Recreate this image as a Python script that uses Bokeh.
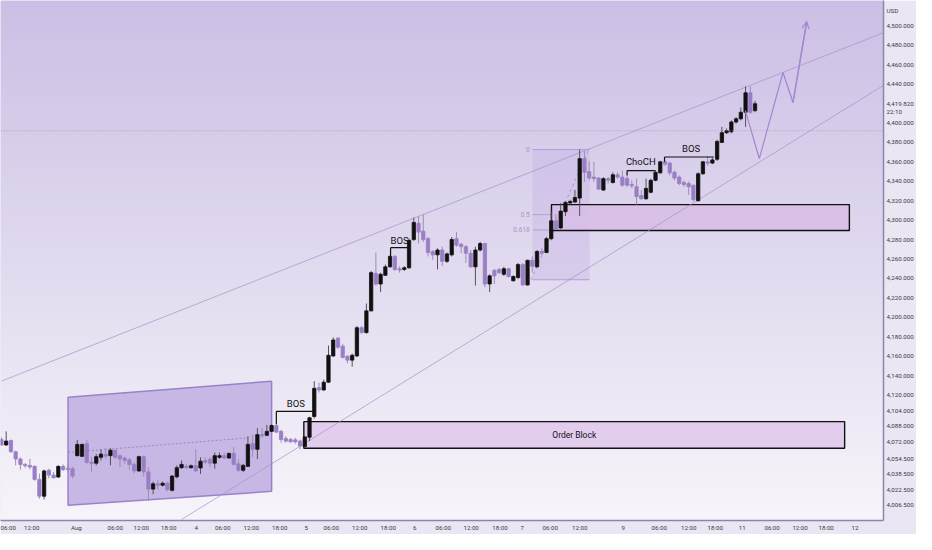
import numpy as np
from bokeh.plotting import figure
from bokeh.models import (ColumnDataSource, FixedTicker, Span, Arrow, OpenHead,
                          Range1d, NumeralTickFormatter)
from bokeh.core.properties import value
from bokeh.embed import file_html
from bokeh.resources import INLINE

# ---------------- data (hourly XAUUSD candles) ----------------
opens = [
    4074.3, 4068.7, 4073.3, 4061.7, 4054.3, 4048.7, 4047.7, 4046.7, 4033.3, 4016.0,
    4042.7, 4037.7, 4035.7, 4046.7, 4044.7, 4044.3, 4057.7, 4057.0, 4070.0, 4051.0,
    4050.0, 4056.0, 4059.0, 4057.7, 4063.3, 4057.7, 4055.3, 4053.3, 4048.7, 4042.0,
    4056.7, 4041.0, 4023.3, 4028.7, 4027.3, 4029.3, 4022.0, 4036.0, 4045.3, 4046.7,
    4045.3, 4047.3, 4045.0, 4052.7, 4054.0, 4050.0, 4056.0, 4057.7, 4055.3, 4060.0,
    4049.3, 4042.7, 4046.7, 4070.0, 4064.3, 4079.3, 4078.7, 4082.7, 4088.7, 4082.7,
    4075.3, 4074.3, 4074.0, 4072.7, 4067.0, 4076.7, 4098.0, 4127.7, 4125.3, 4133.3,
    4160.3, 4178.7, 4170.3, 4160.0, 4156.0, 4160.3, 4189.3, 4184.3, 4206.7, 4245.3,
    4234.3, 4243.3, 4252.0, 4262.7, 4250.0, 4249.3, 4251.0, 4280.0, 4296.7, 4288.7,
    4281.0, 4267.7, 4264.3, 4269.3, 4257.7, 4264.3, 4281.0, 4275.3, 4272.7, 4266.0,
    4252.0, 4269.3, 4276.0, 4234.3, 4248.3, 4249.3, 4244.3, 4250.0, 4237.7, 4241.0,
    4254.3, 4233.3, 4258.7, 4252.0, 4267.7, 4266.7, 4281.0, 4299.3, 4292.0, 4308.7,
    4317.7, 4318.7, 4322.7, 4363.3, 4350.0, 4344.3, 4343.3, 4331.0, 4342.7, 4338.7,
    4346.7, 4344.3, 4342.7, 4336.7, 4334.3, 4325.3, 4322.0, 4328.7, 4341.0, 4348.7,
    4360.0, 4358.7, 4349.3, 4344.3, 4338.7, 4337.7, 4336.0, 4320.0, 4347.7, 4360.0,
    4358.7, 4362.7, 4380.0, 4390.0, 4391.0, 4401.0, 4404.3, 4411.0, 4431.0, 4412.7,
]
highs = [
    4076.7, 4082.7, 4074.3, 4062.7, 4056.0, 4050.0, 4054.3, 4047.7, 4039.3, 4043.3,
    4044.3, 4041.0, 4047.7, 4048.7, 4049.3, 4046.0, 4073.7, 4070.0, 4073.7, 4056.0,
    4059.3, 4064.3, 4066.0, 4065.3, 4064.3, 4059.3, 4056.7, 4055.3, 4051.0, 4057.7,
    4057.7, 4046.0, 4031.0, 4032.7, 4031.0, 4031.0, 4037.7, 4047.7, 4052.7, 4049.3,
    4048.7, 4064.3, 4056.0, 4056.0, 4056.0, 4061.0, 4061.0, 4061.0, 4061.0, 4066.7,
    4054.3, 4049.3, 4077.7, 4079.3, 4086.0, 4086.0, 4089.3, 4090.0, 4090.0, 4084.3,
    4077.7, 4076.0, 4076.0, 4074.3, 4077.7, 4097.7, 4134.3, 4132.7, 4136.0, 4171.0,
    4179.3, 4179.3, 4172.7, 4161.0, 4162.7, 4191.0, 4191.0, 4214.3, 4247.7, 4266.7,
    4246.0, 4254.3, 4264.3, 4264.3, 4252.7, 4252.7, 4281.0, 4302.7, 4304.3, 4306.0,
    4282.7, 4269.3, 4271.0, 4272.7, 4266.7, 4282.7, 4287.7, 4276.7, 4274.3, 4269.3,
    4272.7, 4277.7, 4276.7, 4244.3, 4250.0, 4251.0, 4252.0, 4251.0, 4243.3, 4256.0,
    4256.0, 4259.3, 4262.7, 4269.3, 4271.0, 4282.7, 4309.3, 4306.0, 4317.7, 4319.3,
    4321.0, 4331.0, 4372.7, 4371.0, 4361.0, 4360.0, 4344.3, 4344.3, 4344.3, 4349.3,
    4349.3, 4351.0, 4346.0, 4341.0, 4342.7, 4331.0, 4342.7, 4342.7, 4351.0, 4361.0,
    4361.0, 4360.0, 4351.0, 4346.0, 4341.0, 4340.0, 4336.0, 4349.3, 4361.0, 4366.0,
    4364.3, 4382.7, 4396.0, 4394.3, 4402.7, 4406.0, 4416.0, 4437.7, 4437.7, 4422.7,
]
lows = [
    4068.0, 4067.7, 4061.0, 4047.7, 4043.3, 4045.3, 4043.7, 4032.0, 4013.3, 4012.7,
    4034.3, 4034.3, 4035.0, 4042.0, 4042.0, 4034.3, 4057.0, 4056.7, 4049.3, 4041.0,
    4047.7, 4052.7, 4054.3, 4047.7, 4054.3, 4046.0, 4049.3, 4042.7, 4039.3, 4041.0,
    4036.0, 4011.0, 4018.0, 4022.7, 4026.0, 4021.0, 4021.0, 4034.3, 4044.3, 4044.3,
    4044.3, 4041.0, 4039.0, 4049.0, 4046.0, 4044.3, 4054.3, 4054.3, 4054.3, 4047.7,
    4041.0, 4041.0, 4046.0, 4056.0, 4054.3, 4076.0, 4077.7, 4082.0, 4081.0, 4071.0,
    4071.0, 4071.0, 4070.0, 4064.3, 4066.0, 4072.7, 4096.0, 4122.7, 4124.3, 4132.7,
    4159.3, 4167.7, 4157.7, 4152.7, 4149.3, 4159.3, 4183.3, 4183.3, 4206.0, 4232.7,
    4226.0, 4242.7, 4251.0, 4247.7, 4246.0, 4247.7, 4250.0, 4278.7, 4276.0, 4277.7,
    4262.7, 4259.3, 4249.3, 4252.7, 4256.0, 4262.7, 4272.7, 4266.0, 4256.0, 4251.0,
    4232.7, 4267.7, 4231.0, 4226.0, 4234.3, 4244.3, 4242.7, 4241.0, 4236.7, 4239.3,
    4232.7, 4232.7, 4246.0, 4251.0, 4264.3, 4266.0, 4279.3, 4290.0, 4291.0, 4304.3,
    4316.0, 4317.7, 4304.3, 4339.3, 4341.0, 4339.3, 4331.0, 4330.0, 4337.7, 4337.7,
    4342.7, 4334.3, 4334.3, 4332.7, 4316.0, 4321.0, 4321.0, 4327.7, 4340.0, 4347.7,
    4356.0, 4346.0, 4341.0, 4336.0, 4334.3, 4326.0, 4319.3, 4319.3, 4346.7, 4356.0,
    4357.7, 4361.0, 4379.3, 4388.7, 4389.3, 4399.3, 4402.7, 4396.0, 4409.3, 4411.0,
]
closes = [
    4068.7, 4072.7, 4061.7, 4054.3, 4048.7, 4047.3, 4046.0, 4033.3, 4016.0, 4042.0,
    4037.7, 4035.0, 4046.7, 4043.3, 4043.7, 4036.7, 4069.3, 4069.3, 4051.0, 4049.7,
    4056.7, 4059.3, 4057.3, 4063.3, 4056.0, 4054.3, 4052.7, 4048.7, 4042.0, 4056.7,
    4041.0, 4023.3, 4028.7, 4027.3, 4029.3, 4022.7, 4036.7, 4045.3, 4048.7, 4045.3,
    4047.3, 4042.0, 4052.0, 4051.0, 4050.0, 4057.7, 4057.7, 4055.3, 4060.0, 4048.7,
    4042.7, 4047.7, 4069.3, 4064.3, 4079.3, 4078.3, 4082.7, 4088.7, 4082.0, 4074.3,
    4072.7, 4072.0, 4072.0, 4067.7, 4077.0, 4096.7, 4127.0, 4125.3, 4133.3, 4161.0,
    4176.7, 4169.3, 4158.7, 4156.0, 4161.0, 4189.3, 4184.3, 4206.7, 4246.0, 4234.3,
    4244.3, 4252.0, 4262.7, 4249.3, 4248.7, 4251.0, 4279.3, 4297.7, 4287.7, 4280.0,
    4266.7, 4264.3, 4269.3, 4257.7, 4265.3, 4280.0, 4274.3, 4272.7, 4266.0, 4252.0,
    4269.3, 4276.0, 4234.3, 4242.7, 4242.7, 4246.0, 4250.0, 4242.0, 4242.0, 4254.3,
    4233.3, 4258.7, 4252.7, 4267.7, 4266.0, 4281.0, 4299.3, 4291.0, 4309.3, 4318.3,
    4319.3, 4323.3, 4363.3, 4349.3, 4343.3, 4342.7, 4332.0, 4342.7, 4341.0, 4346.7,
    4344.3, 4336.0, 4336.0, 4335.3, 4324.3, 4322.0, 4332.7, 4341.0, 4349.3, 4360.0,
    4357.7, 4348.7, 4343.3, 4337.7, 4336.7, 4334.3, 4321.0, 4347.7, 4360.0, 4358.7,
    4362.0, 4381.0, 4390.0, 4392.0, 4401.0, 4404.3, 4411.0, 4431.0, 4411.0, 4419.8,
]

x_tick_pos = [1.2, 6.4, 15.8, 24.0, 29.5, 35.3, 41.1, 46.7, 52.7, 58.7, 64.3, 69.6, 75.6,
              81.6, 87.2, 93.2, 99.1, 105.2, 109.9, 115.8, 122.0, 131.2, 138.8, 145.0,
              150.6, 156.3, 162.6, 168.5, 174.0, 180.1]
x_tick_labels = ["06:00", "12:00", "Aug", "06:00", "12:00", "18:00", "4", "06:00", "12:00",
                 "18:00", "5", "06:00", "12:00", "18:00", "6", "06:00", "12:00", "18:00", "7",
                 "06:00", "12:00", "9", "06:00", "12:00", "18:00", "11", "06:00", "12:00",
                 "18:00", "12"]
y_tick_values = [4500, 4480, 4460, 4440, 4400, 4380, 4360, 4340, 4320, 4300, 4280, 4260,
                 4240, 4220, 4200, 4180, 4160, 4140, 4120, 4104, 4088, 4072, 4054.5,
                 4038.5, 4022.5, 4006.5]

currency = "USD"
currency_pos = 4515.5
last_price = 4419.82
last_price_time = "22:10"
last_time_pos = 4411.5
price_line = 4392.0

# drawings (bar index, price)
channel_x = [14.05, 57.0, 57.0, 14.05]
channel_y = [4117.7, 4134.3, 4021.0, 4006.7]
channel_mid_x = [14.05, 52.1]
channel_mid_y = [4061.0, 4076.0]

order_block = dict(x0=63.8, x1=177.9, top=4092.7, bottom=4065.3)
upper_zone = dict(x0=116.05, x1=178.9, top=4316.0, bottom=4289.3)

fib_x = [112.05, 124.1]
fib_high, fib_low = 4372.7, 4238.7
fib_ratios = [0, 0.5, 0.618, 1]
fib_shown = ["0", "0.5", "0.618", ""]

upper_trend_x = [0.0, 186.0]
upper_trend_y = [4134.4, 4492.7]
lower_trend_x = [38.0, 186.1]
lower_trend_y = [3992.0, 4438.7]

proj_x = [156.96, 159.9, 164.9, 167.0, 169.9]
proj_y = [4412.7, 4363.3, 4452.0, 4421.0, 4504.3]

structure_labels = ["BOS", "BOS", "ChoCH", "BOS"]
structure_text_x = [62.1, 84.0, 134.9, 145.5]
structure_text_y = [4111.0, 4278.7, 4360.0, 4373.3]
structure_line_x0 = [58.0, 82.1, 132.0, 139.9]
structure_line_x1 = [65.9, 86.0, 138.0, 150.3]
structure_level = [4103.3, 4271.7, 4351.0, 4365.0]
structure_anchor = [4090.0, 4262.7, 4346.0, 4360.0]

# ---------------- figure ----------------
X0, X1 = -0.2, 186.1
Y0, Y1 = 3991.0, 4526.0
FONT = "Roboto"

p = figure(width=916, height=534, x_range=Range1d(X0, X1), y_range=Range1d(Y0, Y1),
           output_backend="svg", toolbar_location=None, y_axis_location="right",
           min_border_left=0, min_border_top=0, min_border_right=0, min_border_bottom=0)
p.outline_line_color = None
p.grid.visible = False
p.border_fill_color = "#ebe6f3"
p.background_fill_color = "#e4ddef"

# gradient background (style only)
rows = 256
t = np.linspace(0.0, 1.0, rows)[:, None]
c_bot = np.array([247, 245, 250], dtype=float)
c_top = np.array([204, 191, 229], dtype=float)
cols = c_bot + (c_top - c_bot) * t
img = np.zeros((rows, 2), dtype=np.uint32)
view = img.view(dtype=np.uint8).reshape((rows, 2, 4))
for k in range(3):
    view[:, :, k] = cols[:, k:k + 1].astype(np.uint8)
view[:, :, 3] = 255
p.image_rgba(image=[img], x=X0, y=Y0, dw=X1 - X0, dh=Y1 - Y0)

# channel
p.patch(channel_x, channel_y, fill_color="#c7b7e4", fill_alpha=1.0,
        line_color="#9a82cb", line_width=1.5)
p.line(channel_mid_x, channel_mid_y, line_color="#9a86c4", line_width=1, line_dash="2 2")

# fib box
p.quad(left=[fib_x[0]], right=[fib_x[1]], top=[fib_high], bottom=[fib_low],
       fill_color="#c4aee6", fill_alpha=0.35, line_color=None)
fib_levels = [fib_high - r * (fib_high - fib_low) for r in fib_ratios]
p.segment(x0=[fib_x[0]] * 4, x1=[fib_x[1]] * 4, y0=fib_levels, y1=fib_levels,
          line_color="#b29fd6", line_width=1)
p.text(x=[fib_x[0] - 0.6] * 4, y=fib_levels, text=fib_shown, text_font=value(FONT),
       text_font_size="6.5px", text_color="#a597c4", text_align="right",
       text_baseline="middle")
p.line([fib_x[0] - 0.3, fib_x[1] - 0.2], [fib_low, fib_high], line_color="#ad98d6",
       line_width=1, line_dash="3 3")

# zones
p.quad(left=[order_block["x0"]], right=[order_block["x1"]], top=[order_block["top"]],
       bottom=[order_block["bottom"]], fill_color="#e3cdee", fill_alpha=1.0,
       line_color="#111111", line_width=1.4)
p.quad(left=[upper_zone["x0"]], right=[upper_zone["x1"]], top=[upper_zone["top"]],
       bottom=[upper_zone["bottom"]], fill_color="#d8bfe7", fill_alpha=0.95,
       line_color="#111111", line_width=1.4)
p.text(x=[(order_block["x0"] + order_block["x1"]) / 2],
       y=[(order_block["top"] + order_block["bottom"]) / 2], text=["Order Block"],
       text_font=value(FONT), text_font_size="8.5px", text_color="#111111",
       text_align="center", text_baseline="middle")

# trend lines
p.line(upper_trend_x, upper_trend_y, line_color="#a294c8", line_width=0.7)
p.line(lower_trend_x, lower_trend_y, line_color="#a294c8", line_width=0.7)

# price line
p.add_layout(Span(location=price_line, dimension="width", line_color="#9b92ad",
                  line_width=0.8, line_dash="1 2"))

# candles
idx = list(range(len(opens)))
up = [c >= o for o, c in zip(opens, closes)]
src = ColumnDataSource(dict(
    x=idx,
    top=[max(o, c) for o, c in zip(opens, closes)],
    bottom=[min(o, c) for o, c in zip(opens, closes)],
    high=highs, low=lows,
    color=["#111111" if u else "#9a7ec6" for u in up],
    wick=["#55505f" if u else "#9a90ad" for u in up],
))
p.segment(x0="x", x1="x", y0="high", y1="low", source=src, line_color="wick",
          line_width=1)
p.vbar(x="x", width=0.7, top="top", bottom="bottom", source=src, fill_color="color",
       line_color="color", line_width=0.8)

# market structure marks
p.segment(x0=structure_line_x0, x1=structure_line_x1, y0=structure_level,
          y1=structure_level, line_color="#111111", line_width=1.2)
p.segment(x0=structure_line_x0, x1=structure_line_x0, y0=structure_level,
          y1=structure_anchor, line_color="#111111", line_width=1.2)
p.text(x=structure_text_x, y=structure_text_y, text=structure_labels,
       text_font=value(FONT), text_font_size="9.5px", text_color="#111111",
       text_align="center", text_baseline="middle")

# projection path
p.line(proj_x, proj_y, line_color="#a588d4", line_width=1.3)
p.add_layout(Arrow(end=OpenHead(size=7, line_color="#a588d4", line_width=1.3),
                   x_start=proj_x[-2], y_start=proj_y[-2], x_end=proj_x[-1],
                   y_end=proj_y[-1], line_color="#a588d4", line_width=1.3))

# axes
xa = p.xaxis[0]
xa.ticker = FixedTicker(ticks=x_tick_pos)
xa.major_label_overrides = {pos: lab for pos, lab in zip(x_tick_pos, x_tick_labels)}
ya = p.yaxis[0]
ya.ticker = FixedTicker(ticks=y_tick_values + [last_price, last_time_pos, currency_pos])
ya.formatter = NumeralTickFormatter(format="0,0.000")
ya.major_label_overrides = {last_price: "{:,.3f}".format(last_price),
                            last_time_pos: last_price_time,
                            currency_pos: currency}
for ax in (xa, ya):
    ax.major_tick_line_color = None
    ax.minor_tick_line_color = None
    ax.major_tick_in = 0
    ax.major_tick_out = 0
    ax.axis_line_color = "#8f85aa"
    ax.axis_line_width = 1.5
    ax.major_label_text_font = FONT
    ax.major_label_text_font_size = "6.2px"
    ax.major_label_text_color = "#3d3a45"
    ax.major_label_standoff = 3

open("out.html", "w").write(file_html(p, INLINE))
